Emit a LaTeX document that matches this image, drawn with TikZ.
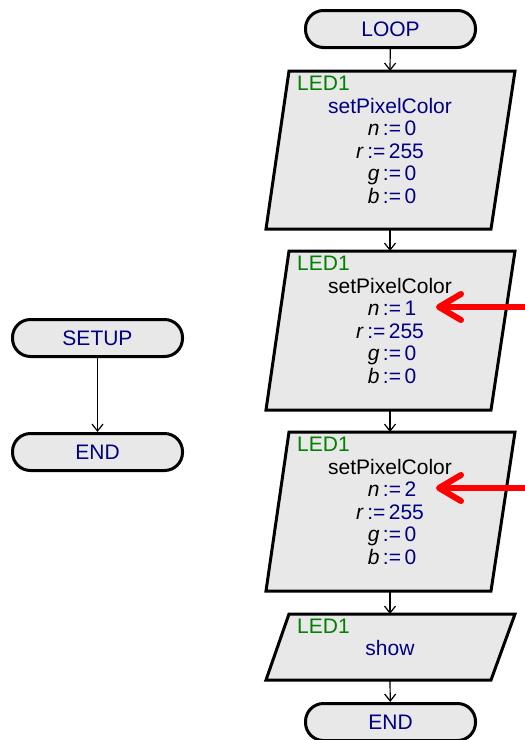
\documentclass[tikz,border=0pt]{standalone}
\usepackage{fontspec}
\setmainfont{Liberation Sans}
\usetikzlibrary{arrows.meta}
\definecolor{navytxt}{RGB}{0,0,128}
\definecolor{greentxt}{RGB}{0,128,0}
\definecolor{boxfill}{RGB}{232,232,232}
\definecolor{redarrow}{RGB}{255,0,0}
\tikzset{
  term/.style={draw=black, line width=3pt, fill=boxfill, rounded corners=18pt,
    minimum width=170pt, minimum height=37pt, inner sep=0pt, text=navytxt,
    font=\fontsize{21}{22}\selectfont},
  pgram/.style={draw=black, line width=3pt, fill=boxfill, line join=miter},
  slot/.style={inner sep=0pt, outer sep=0pt},
  txt/.style={anchor=base, inner sep=0pt, text=navytxt, font=\fontsize{21}{22}\selectfont},
  dev/.style={anchor=base west, inner sep=0pt, text=greentxt, font=\fontsize{21}{22}\selectfont},
  flow/.style={draw=black, line width=1.2pt, -{Straight Barb[length=7pt,width=11pt]}},
  marker/.style={draw=redarrow, line width=6pt, line cap=round,
    -{Straight Barb[length=22pt,width=26pt,round]}}
}
\newcommand{\asg}[2]{\textcolor{black}{\textit{#1}}\,:=\,#2}
\begin{document}
\begin{tikzpicture}[x=1pt,y=-1pt]
\useasboundingbox (0,0) rectangle (525,740);

% left chain
\node[term] (setup) at (97.5,338) {SETUP};
\node[term] (endl) at (97.5,452) {END};
\draw[flow] (setup) -- (endl);

% right chain terminals
\node[term] (loop) at (390.5,29) {LOOP};
\node[term] (endr) at (390.5,722) {END};

% parallelograms
\foreach \T/\B/\n in {71/229/b1, 251/410/b2, 432/591/b3, 614/680/b4}{
  \draw[pgram] (289,\T) -- (515,\T) -- (491,\B) -- (266,\B) -- cycle;
}
\node[slot, minimum width=226pt, minimum height=158pt] (b1) at (390,150) {};
\node[slot, minimum width=226pt, minimum height=159pt] (b2) at (390,330.5) {};
\node[slot, minimum width=226pt, minimum height=159pt] (b3) at (390,511.5) {};
\node[slot, minimum width=226pt, minimum height=66pt] (b4) at (390,647) {};

% box 1
\node[dev] (d1) at (297,90) {LED1};
\node[txt] (f1) at (390,113) {setPixelColor};
\node[txt] (n1) at (392,135.5) {\asg{n}{0}};
\node[txt] (r1) at (390,158) {\asg{r}{255}};
\node[txt] (g1) at (392,180.5) {\asg{g}{0}};
\node[txt] (v1) at (392,203) {\asg{b}{0}};

% box 2
\node[dev] (d2) at (297,270) {LED1};
\node[txt, text=black] (f2) at (390,293) {setPixelColor};
\node[txt] (n2) at (392,315.5) {\asg{n}{1}};
\node[txt] (r2) at (390,338) {\asg{r}{255}};
\node[txt] (g2) at (392,360.5) {\asg{g}{0}};
\node[txt] (v2) at (392,383) {\asg{b}{0}};

% box 3
\node[dev] (d3) at (297,451) {LED1};
\node[txt, text=black] (f3) at (390,474) {setPixelColor};
\node[txt] (n3) at (392,496.5) {\asg{n}{2}};
\node[txt] (r3) at (390,519) {\asg{r}{255}};
\node[txt] (g3) at (392,541.5) {\asg{g}{0}};
\node[txt] (v3) at (392,564) {\asg{b}{0}};

% box 4
\node[dev] (d4) at (297,633) {LED1};
\node[txt] (f4) at (390,655) {show};

% connectors
\draw[flow] (loop) -- (b1.north);
\draw[flow] (b1.south) -- (b2.north);
\draw[flow] (b2.south) -- (b3.north);
\draw[flow] (b3.south) -- (b4.north);
\draw[flow] (b4.south) -- (endr);

% red markers
\coordinate (m2s) at (528,307);
\coordinate (m2e) at (436,307);
\coordinate (m3s) at (528,488);
\coordinate (m3e) at (436,488);
\draw[marker] (m2s) -- (m2e);
\draw[marker] (m3s) -- (m3e);
\end{tikzpicture}
\end{document}
